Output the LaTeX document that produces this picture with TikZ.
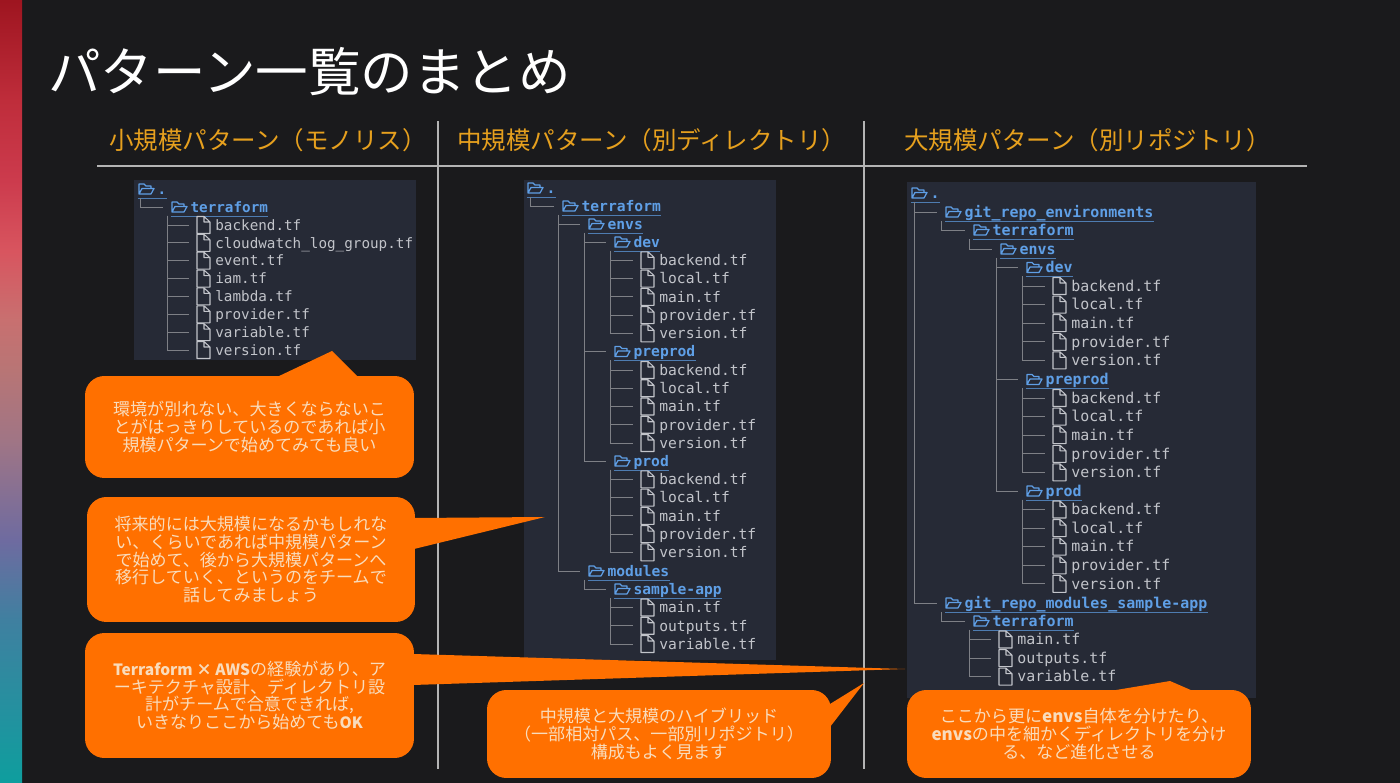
\documentclass[tikz,border=0pt]{standalone}
\usepackage{fontspec}
\setmainfont{Noto Sans CJK JP}
\setsansfont{Noto Sans CJK JP}
\setmonofont{DejaVu Sans Mono}
\usetikzlibrary{positioning}
\definecolor{SlideBg}{HTML}{1A1A1C}
\definecolor{PanelBg}{HTML}{262A36}
\definecolor{RuleGray}{HTML}{B4B4B4}
\definecolor{HeadGold}{HTML}{E6A01E}
\definecolor{CallOrange}{HTML}{FF7000}
\definecolor{CallText}{HTML}{F9DCBC}
\definecolor{DirBlue}{HTML}{5F9FE6}
\definecolor{FileGray}{HTML}{C2C4CA}
\definecolor{BranchGray}{HTML}{7E8086}
\definecolor{StripA}{HTML}{0E9E9E}
\definecolor{StripB}{HTML}{3F80A0}
\definecolor{StripC}{HTML}{6E6BA0}
\definecolor{StripD}{HTML}{A07585}
\definecolor{StripE}{HTML}{B87575}
\definecolor{StripF}{HTML}{C87070}
\definecolor{StripG}{HTML}{D8555F}
\definecolor{StripH}{HTML}{CC3B4D}
\definecolor{StripI}{HTML}{BF2D3B}
\definecolor{StripJ}{HTML}{9E1520}
\pgfdeclareverticalshading{stripfade}{100bp}{
    color(0bp)=(StripA);
    color(25bp)=(StripA);
    color(35.4bp)=(StripB);
    color(40.5bp)=(StripC);
    color(46.9bp)=(StripD);
    color(51.4bp)=(StripE);
    color(54.6bp)=(StripF);
    color(59bp)=(StripG);
    color(63.5bp)=(StripH);
    color(68.6bp)=(StripI);
    color(75bp)=(StripJ);
    color(100bp)=(StripJ)}
% tree rows
\newcommand{\diritem}[4]{%
    \node[diritem] (#1) at (#2,#3) {#4};
    \pic at (#1.west) {foldericon};
    \draw[linkline] ([xshift=4.5pt]#1.south west) -- (#1.south east);}
\newcommand{\filerows}[5]{%
    \foreach \fname [count=\i from 0] in #5 {
        \pgfmathsetmacro{\rowy}{#3+\i*#4}
        \node[fileitem] (#1-\i) at (#2,\rowy) {\fname};
        \pic at (#1-\i.west) {fileicon};
        \draw[branch] ([xshift=2.6pt]#1.south west) |- (#1-\i.west);
    }}
\newcommand{\tfeight}{backend.tf, cloudwatch\_log\_group.tf, event.tf, iam.tf, lambda.tf, provider.tf, variable.tf, version.tf}
\newcommand{\tffive}{backend.tf, local.tf, main.tf, provider.tf, version.tf}
\newcommand{\tfthree}{main.tf, outputs.tf, variable.tf}
\newcommand{\latinbit}[1]{{\fontsize{8.85}{10.2}\selectfont\bfseries #1}}

\begin{document}
\begin{tikzpicture}[
    x=0.02cm, y=-0.02cm,
    rowbox/.style={anchor=west, inner xsep=0pt, inner ysep=0.9pt,
        text height=7pt, text depth=1pt},
    diritem/.style={rowbox, text=DirBlue,
        execute at begin node={\hspace*{15.5pt}\bfseries}},
    fileitem/.style={rowbox, text=FileGray,
        execute at begin node={\hspace*{14.8pt}}},
    branch/.style={draw=BranchGray, line width=0.55pt},
    linkline/.style={draw=DirBlue!70!PanelBg, line width=0.4pt},
    rulebar/.style={draw=RuleGray, line width=0.8pt},
    panel/.style={fill=PanelBg},
    headline/.style={anchor=west, text=HeadGold, font=\fontsize{13.95}{16}\selectfont},
    callout/.style={fill=CallOrange, rounded corners=11pt, align=center, text=CallText,
        inner sep=0pt, font=\fontsize{9.7}{10.2}\selectfont},
    foldericon/.pic={
        \draw[DirBlue, line width=0.7pt, line join=round]
            (9,5) -- (9,-5) -- (14,-5) -- (16,-3) -- (21,-3) -- (21,-0.5)
            (9,5) -- (12,-0.5) -- (24,-0.5) -- (21,5) -- cycle;},
    fileicon/.pic={
        \draw[FileGray, line width=0.6pt, line join=round]
            (8,-8.5) -- (15,-8.5) -- (21,-3) -- (21,8.5) -- (8,8.5) -- cycle
            (15,-8.5) -- (15,-3) -- (21,-3);},
]
\useasboundingbox (0,0) rectangle (1400,783);
\fill[SlideBg] (0,0) rectangle (1400,783);
\shade[shading=stripfade] (0,1) rectangle (22,783);

% title and column heads
\node[anchor=west, text=white, font=\fontsize{29.9}{34}\selectfont] (title) at (42,72)
    {パターン一覧のまとめ};
\node[headline] (headA) at (103,140) {小規模パターン（モノリス）};
\node[headline] (headB) at (451,140) {中規模パターン（別ディレクトリ）};
\node[headline] (headC) at (898,140) {大規模パターン（別リポジトリ）};
\draw[rulebar] (97,166) -- (1307,166);
\draw[rulebar] (438,121) -- (438,769);
\draw[rulebar] (864,121) -- (864,769);

% panels
\fill[panel] (134,180) rectangle (416,360);
\fill[panel] (524,180) rectangle (776,660);
\fill[panel] (907,182) rectangle (1256,698);

% small pattern tree
\begin{scope}[every node/.append style={font=\fontsize{8.13}{9}\selectfont\ttfamily}]
\diritem{rootA}{130}{189}{.}
\diritem{tfA}{163}{207}{terraform}
\draw[branch] ([xshift=6.2pt]rootA.south west) |- (tfA.west);
\filerows{tfA}{189}{225}{17.86}{\tfeight}
\end{scope}

% middle pattern tree
\begin{scope}[every node/.append style={font=\fontsize{8.33}{9}\selectfont\ttfamily}]
\diritem{rootB}{519}{188}{.}
\diritem{tfB}{554}{206}{terraform}
\diritem{envsB}{580}{224}{envs}
\diritem{devB}{606}{242}{dev}
\diritem{preprodB}{606}{351.5}{preprod}
\diritem{prodB}{606}{461}{prod}
\diritem{modulesB}{580}{571}{modules}
\diritem{appB}{606}{589}{sample-app}
\draw[branch] ([xshift=6.8pt]rootB.south west) |- (tfB.west);
\draw[branch] ([xshift=2.6pt]tfB.south west) |- (envsB.west);
\draw[branch] ([xshift=2.6pt]tfB.south west) |- (modulesB.west);
\draw[branch] ([xshift=2.6pt]envsB.south west) |- (devB.west);
\draw[branch] ([xshift=2.6pt]envsB.south west) |- (preprodB.west);
\draw[branch] ([xshift=2.6pt]envsB.south west) |- (prodB.west);
\draw[branch] ([xshift=2.6pt]modulesB.south west) |- (appB.west);
\filerows{devB}{633}{260.3}{18.25}{\tffive}
\filerows{preprodB}{633}{370}{18.25}{\tffive}
\filerows{prodB}{633}{479.3}{18.25}{\tffive}
\filerows{appB}{633}{607.5}{18.25}{\tfthree}
\end{scope}

% large pattern tree
\begin{scope}[every node/.append style={font=\fontsize{8.5}{9}\selectfont\ttfamily}]
\diritem{rootC}{903}{193}{.}
\diritem{gitC}{937}{212}{git\_repo\_environments}
\diritem{tfC}{965}{230}{terraform}
\diritem{envsC}{992}{249}{envs}
\diritem{devC}{1018}{267.5}{dev}
\diritem{preprodC}{1018}{379.5}{preprod}
\diritem{prodC}{1018}{491}{prod}
\diritem{gitM}{937}{603}{git\_repo\_modules\_sample-app}
\diritem{tfM}{965}{621}{terraform}
\draw[branch] ([xshift=6.8pt]rootC.south west) |- (gitC.west);
\draw[branch] ([xshift=6.8pt]rootC.south west) |- (gitM.west);
\draw[branch] ([xshift=2.6pt]gitC.south west) |- (tfC.west);
\draw[branch] ([xshift=2.6pt]tfC.south west) |- (envsC.west);
\draw[branch] ([xshift=2.6pt]envsC.south west) |- (devC.west);
\draw[branch] ([xshift=2.6pt]envsC.south west) |- (preprodC.west);
\draw[branch] ([xshift=2.6pt]envsC.south west) |- (prodC.west);
\draw[branch] ([xshift=2.6pt]gitM.south west) |- (tfM.west);
\filerows{devC}{1045}{286}{18.6}{\tffive}
\filerows{preprodC}{1045}{398}{18.6}{\tffive}
\filerows{prodC}{1045}{509.5}{18.6}{\tffive}
\filerows{tfM}{991}{639.5}{18.6}{\tfthree}
\end{scope}

% callouts
\fill[CallOrange] (277,377) -- (332,351) -- (358,377) -- cycle;
\fill[CallOrange] (414,518) -- (545,517) -- (414,549) -- cycle;
\fill[CallOrange] (413,654) -- (905,669) -- (413,685) -- cycle;
\fill[CallOrange] (830,704) -- (864,683) -- (830,727) -- cycle;
\fill[CallOrange] (1110,691) -- (1170,681) -- (1193,691) -- cycle;
\node[callout, minimum width=6.58cm, minimum height=2.04cm] (callA) at (249.5,427)
    {環境が別れない、大きくならないこ\\とがはっきりしているのであれば小\\規模パターンで始めてみても良い};
\node[callout, minimum width=6.56cm, minimum height=2.5cm] (callB) at (251,559.5)
    {将来的には大規模になるかもしれな\\い、くらいであれば中規模パターン\\で始めて、後から大規模パターンへ\\移行していく、というのをチームで\\話してみましょう};
\node[callout, minimum width=6.58cm, minimum height=2.5cm] (callC) at (249.5,695.5)
    {\latinbit{Terraform × AWS}の経験があり、ア\\ーキテクチャ設計、ディレクトリ設\\計がチームで合意できれば,\\いきなりここから始めても\latinbit{OK}};
\node[callout, minimum width=6.88cm, minimum height=1.76cm] (callD) at (659,734)
    {中規模と大規模のハイブリッド\\（一部相対パス、一部別リポジトリ）\\構成もよく見ます};
\node[callout, minimum width=6.88cm, minimum height=1.76cm] (callE) at (1079,734)
    {ここから更に\textbf{envs}自体を分けたり、\\\textbf{envs}の中を細かくディレクトリを分け\\る、など進化させる};
\end{tikzpicture}
\end{document}
